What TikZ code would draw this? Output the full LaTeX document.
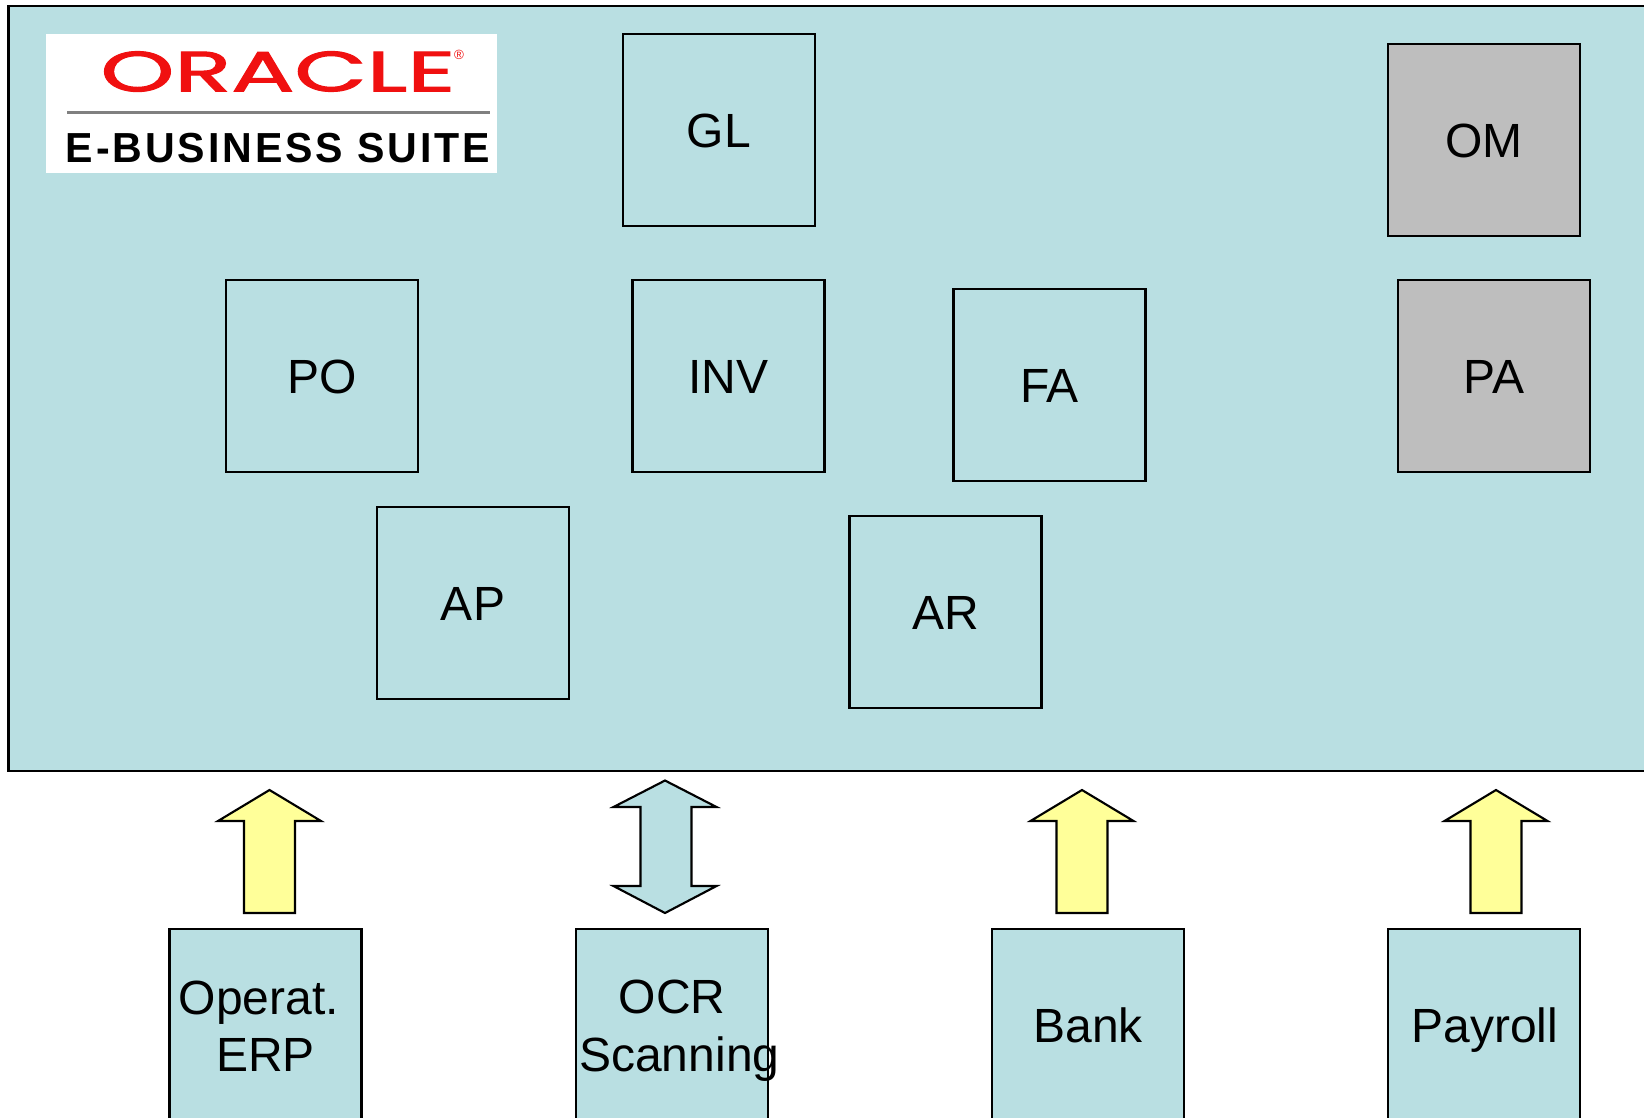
\documentclass[tikz,border=0pt]{standalone}
\usepackage{fontspec}
\setmainfont{Liberation Sans}
\newfontfamily\logofont[FakeBold=1.6]{Poppins}
\newfontfamily\suitefont[LetterSpace=7]{Liberation Sans}
\definecolor{panelblue}{HTML}{B9DFE2}
\definecolor{arrowyellow}{HTML}{FFFF99}
\definecolor{modgray}{HTML}{BEBEBE}
\definecolor{oraclered}{HTML}{F01010}
\newcommand{\mystrut}{\rule[-7.2pt]{0pt}{41.2pt}}
\newcommand{\lineat}[2]{\mystrut\makebox[0pt]{\kern#1pt #2}}
\tikzset{
  modbox/.style={draw=black,line width=1.6pt,fill=panelblue,minimum width=144pt,minimum height=144pt,inner sep=0pt,font=\fontsize{36}{43.2}\selectfont,align=center},
  graybox/.style={modbox,fill=modgray},
  blockarrow/.style={draw=black,line width=1.6pt,line join=miter,fill=arrowyellow},
  blockboth/.style={blockarrow,fill=panelblue},
  logotext/.style={inner sep=0pt,outer sep=0pt}
}
\begin{document}
\begin{tikzpicture}[x=0.75pt,y=-0.75pt]
\useasboundingbox (0,0) rectangle (1644,1117);
\clip (0,0) rectangle (1644,1117);
\fill[white] (0,0) rectangle (1644,1117);
% panel
\draw[line width=1.6pt,fill=panelblue] (8.5,6) rectangle (1670,771);
% logo
\fill[white] (46,34) rectangle (497,173);
\node[logotext,text=oraclered,anchor=center] (oracle) at (278,71.5) {\resizebox{266pt}{30pt}{\logofont ORACLE}};
\node[logotext,text=oraclered,anchor=center] (reg) at (459,55) {\fontsize{10}{11}\selectfont ®};
\draw[line width=1.8pt,color=black!50] (67,112.5) -- (490,112.5);
\node[logotext,anchor=center] (suite) at (278,148) {\resizebox{318pt}{22pt}{\suitefont\bfseries E-BUSINESS SUITE}};
% module boxes
\node[modbox] (GL) at (719,130) {\mystrut GL};
\node[graybox] (OM) at (1484,140) {\mystrut OM};
\node[modbox] (PO) at (322,376) {\mystrut PO};
\node[modbox] (INV) at (728.5,376) {\mystrut INV};
\node[modbox] (FA) at (1049.5,385) {\mystrut FA};
\node[graybox] (PA) at (1494,376) {\mystrut PA};
\node[modbox] (AP) at (473,603) {\mystrut AP};
\node[modbox] (AR) at (945.5,612) {\mystrut AR};
% source boxes
\node[modbox] (ERP) at (265.5,1025) {\lineat{-10}{Operat.}\\\mystrut ERP};
\node[modbox] (OCR) at (672,1025) {\mystrut OCR\\\lineat{11}{Scanning}};
\node[modbox] (Bank) at (1088,1025) {\mystrut Bank};
\node[modbox] (Payroll) at (1484,1025) {\lineat{1}{Payroll}};
% block arrows
\foreach \cx/\nm in {269.5/a,1082/b,1496/c}{
  \draw[blockarrow,shift={(\cx,0)}] (0,790) -- (51.5,821) -- (25.5,821) -- (25.5,913) -- (-25.5,913) -- (-25.5,821) -- (-51.5,821) -- cycle;
}
\draw[blockboth] (665,780.5) -- (716.5,807) -- (691.5,807) -- (691.5,886) -- (716.5,886) -- (665,913) -- (613.5,886) -- (640.5,886) -- (640.5,807) -- (613.5,807) -- cycle;
\end{tikzpicture}
\end{document}
